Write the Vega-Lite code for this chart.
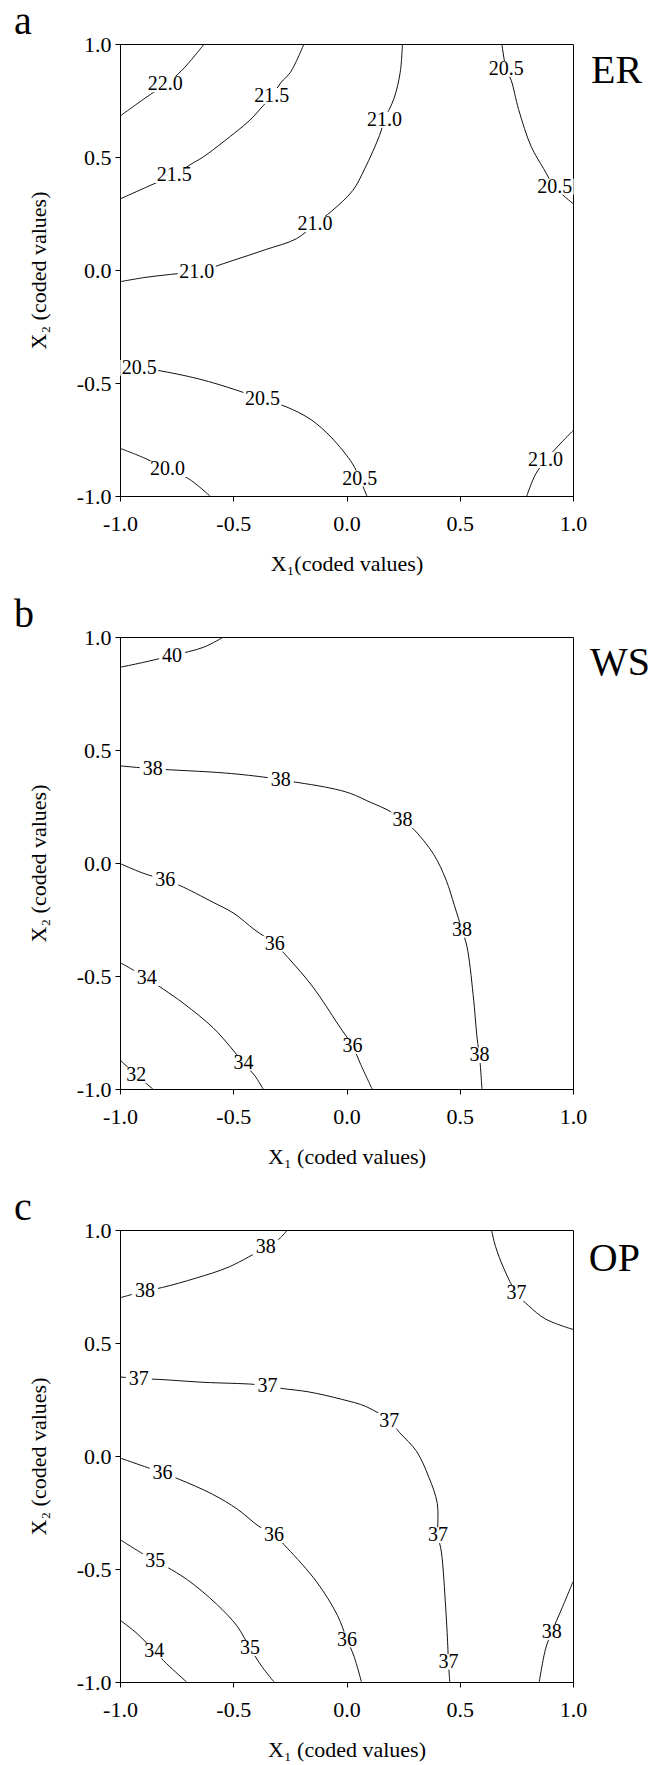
{
  "$schema": "https://vega.github.io/schema/vega-lite/v6.json",
  "background": "white",
  "padding": {"left": 13, "top": 1, "right": 2, "bottom": 2},
  "spacing": 19,
  "config": {
    "view": {"stroke": "#000", "strokeWidth": 1},
    "font": "Liberation Serif",
    "axis": {
      "labelFont": "Liberation Serif", "labelFontSize": 22, "labelColor": "#000",
      "titleFont": "Liberation Serif", "titleFontSize": 22, "titleFontWeight": "normal", "titleColor": "#000",
      "domainColor": "#000", "tickColor": "#000", "tickSize": 5, "grid": false,
      "labelFlush": false, "labelOverlap": false, "labelBound": false
    },
    "axisX": {"titlePadding": 19, "labelPadding": 12},
    "axisY": {"titlePadding": 26, "labelPadding": 4},
    "title": {"font": "Liberation Serif", "fontSize": 40, "fontWeight": "normal", "color": "#000", "anchor": "start", "frame": "group", "dx": -106, "offset": -9}
  },
  "datasets": {
    "a_lines": [
      {"c": "a1", "i": 0, "x": -1, "y": 0.681}, {"c": "a1", "i": 1, "x": -0.89, "y": 0.76}, {"c": "a1", "i": 2, "x": -0.8, "y": 0.822}, {"c": "a1", "i": 3, "x": -0.73, "y": 0.88}, {"c": "a1", "i": 4, "x": -0.628, "y": 1.0},
      {"c": "a2", "i": 0, "x": -0.188, "y": 1.0}, {"c": "a2", "i": 1, "x": -0.248, "y": 0.874}, {"c": "a2", "i": 2, "x": -0.289, "y": 0.83}, {"c": "a2", "i": 3, "x": -0.33, "y": 0.77}, {"c": "a2", "i": 4, "x": -0.368, "y": 0.727}, {"c": "a2", "i": 5, "x": -0.43, "y": 0.66}, {"c": "a2", "i": 6, "x": -0.54, "y": 0.57}, {"c": "a2", "i": 7, "x": -0.633, "y": 0.5}, {"c": "a2", "i": 8, "x": -0.69, "y": 0.466}, {"c": "a2", "i": 9, "x": -0.76, "y": 0.42}, {"c": "a2", "i": 10, "x": -0.844, "y": 0.384}, {"c": "a2", "i": 11, "x": -1, "y": 0.314},
      {"c": "a3", "i": 0, "x": 0.247, "y": 1.0}, {"c": "a3", "i": 1, "x": 0.237, "y": 0.874}, {"c": "a3", "i": 2, "x": 0.21, "y": 0.76}, {"c": "a3", "i": 3, "x": 0.168, "y": 0.665}, {"c": "a3", "i": 4, "x": 0.146, "y": 0.596}, {"c": "a3", "i": 5, "x": 0.081, "y": 0.449}, {"c": "a3", "i": 6, "x": 0.027, "y": 0.351}, {"c": "a3", "i": 7, "x": -0.065, "y": 0.261}, {"c": "a3", "i": 8, "x": -0.139, "y": 0.204}, {"c": "a3", "i": 9, "x": -0.22, "y": 0.139}, {"c": "a3", "i": 10, "x": -0.358, "y": 0.09}, {"c": "a3", "i": 11, "x": -0.505, "y": 0.041}, {"c": "a3", "i": 12, "x": -0.661, "y": -0.008}, {"c": "a3", "i": 13, "x": -0.743, "y": -0.016}, {"c": "a3", "i": 14, "x": -0.89, "y": -0.033}, {"c": "a3", "i": 15, "x": -1, "y": -0.052},
      {"c": "a4", "i": 0, "x": 0.686, "y": 1.0}, {"c": "a4", "i": 1, "x": 0.705, "y": 0.89}, {"c": "a4", "i": 2, "x": 0.727, "y": 0.84}, {"c": "a4", "i": 3, "x": 0.76, "y": 0.71}, {"c": "a4", "i": 4, "x": 0.815, "y": 0.547}, {"c": "a4", "i": 5, "x": 0.87, "y": 0.449}, {"c": "a4", "i": 6, "x": 0.919, "y": 0.368}, {"c": "a4", "i": 7, "x": 1.0, "y": 0.294},
      {"c": "a5", "i": 0, "x": -1, "y": -0.425}, {"c": "a5", "i": 1, "x": -0.918, "y": -0.433}, {"c": "a5", "i": 2, "x": -0.835, "y": -0.444}, {"c": "a5", "i": 3, "x": -0.652, "y": -0.482}, {"c": "a5", "i": 4, "x": -0.487, "y": -0.531}, {"c": "a5", "i": 5, "x": -0.371, "y": -0.572}, {"c": "a5", "i": 6, "x": -0.267, "y": -0.605}, {"c": "a5", "i": 7, "x": -0.157, "y": -0.662}, {"c": "a5", "i": 8, "x": -0.065, "y": -0.743}, {"c": "a5", "i": 9, "x": 0.027, "y": -0.858}, {"c": "a5", "i": 10, "x": 0.058, "y": -0.923}, {"c": "a5", "i": 11, "x": 0.09, "y": -1.0},
      {"c": "a6", "i": 0, "x": -1, "y": -0.789}, {"c": "a6", "i": 1, "x": -0.89, "y": -0.833}, {"c": "a6", "i": 2, "x": -0.79, "y": -0.882}, {"c": "a6", "i": 3, "x": -0.698, "y": -0.923}, {"c": "a6", "i": 4, "x": -0.603, "y": -1.0},
      {"c": "a7", "i": 0, "x": 1.0, "y": -0.711}, {"c": "a7", "i": 1, "x": 0.952, "y": -0.76}, {"c": "a7", "i": 2, "x": 0.879, "y": -0.841}, {"c": "a7", "i": 3, "x": 0.833, "y": -0.907}, {"c": "a7", "i": 4, "x": 0.796, "y": -1.0}
    ],
    "a_labels": [
      {"x": -0.8, "y": 0.822, "t": "22.0"},
      {"x": -0.33, "y": 0.77, "t": "21.5"},
      {"x": -0.76, "y": 0.42, "t": "21.5"},
      {"x": 0.168, "y": 0.665, "t": "21.0"},
      {"x": -0.139, "y": 0.204, "t": "21.0"},
      {"x": -0.661, "y": -0.008, "t": "21.0"},
      {"x": 0.705, "y": 0.89, "t": "20.5"},
      {"x": 0.919, "y": 0.368, "t": "20.5"},
      {"x": -0.915, "y": -0.433, "t": "20.5"},
      {"x": -0.371, "y": -0.572, "t": "20.5"},
      {"x": 0.058, "y": -0.923, "t": "20.5"},
      {"x": -0.79, "y": -0.882, "t": "20.0"},
      {"x": 0.879, "y": -0.841, "t": "21.0"}
    ],
    "a_name": [{"x": 1.08, "y": 0.88, "t": "ER"}],
    "b_lines": [
      {"c": "b1", "i": 0, "x": -1, "y": 0.866}, {"c": "b1", "i": 1, "x": -0.9, "y": 0.887}, {"c": "b1", "i": 2, "x": -0.77, "y": 0.918}, {"c": "b1", "i": 3, "x": -0.63, "y": 0.955}, {"c": "b1", "i": 4, "x": -0.543, "y": 1.0},
      {"c": "b2", "i": 0, "x": -1, "y": 0.43}, {"c": "b2", "i": 1, "x": -0.855, "y": 0.417}, {"c": "b2", "i": 2, "x": -0.534, "y": 0.398}, {"c": "b2", "i": 3, "x": -0.35, "y": 0.378}, {"c": "b2", "i": 4, "x": -0.29, "y": 0.368}, {"c": "b2", "i": 5, "x": -0.074, "y": 0.332}, {"c": "b2", "i": 6, "x": 0.017, "y": 0.308}, {"c": "b2", "i": 7, "x": 0.109, "y": 0.267}, {"c": "b2", "i": 8, "x": 0.183, "y": 0.234}, {"c": "b2", "i": 9, "x": 0.247, "y": 0.19}, {"c": "b2", "i": 10, "x": 0.293, "y": 0.153}, {"c": "b2", "i": 11, "x": 0.385, "y": 0.038}, {"c": "b2", "i": 12, "x": 0.44, "y": -0.076}, {"c": "b2", "i": 13, "x": 0.477, "y": -0.19}, {"c": "b2", "i": 14, "x": 0.51, "y": -0.296}, {"c": "b2", "i": 15, "x": 0.532, "y": -0.37}, {"c": "b2", "i": 16, "x": 0.559, "y": -0.582}, {"c": "b2", "i": 17, "x": 0.577, "y": -0.778}, {"c": "b2", "i": 18, "x": 0.587, "y": -0.851}, {"c": "b2", "i": 19, "x": 0.598, "y": -1.0},
      {"c": "b3", "i": 0, "x": -1, "y": -0.002}, {"c": "b3", "i": 1, "x": -0.901, "y": -0.044}, {"c": "b3", "i": 2, "x": -0.8, "y": -0.076}, {"c": "b3", "i": 3, "x": -0.735, "y": -0.1}, {"c": "b3", "i": 4, "x": -0.589, "y": -0.174}, {"c": "b3", "i": 5, "x": -0.497, "y": -0.223}, {"c": "b3", "i": 6, "x": -0.405, "y": -0.296}, {"c": "b3", "i": 7, "x": -0.317, "y": -0.358}, {"c": "b3", "i": 8, "x": -0.258, "y": -0.419}, {"c": "b3", "i": 9, "x": -0.148, "y": -0.549}, {"c": "b3", "i": 10, "x": -0.038, "y": -0.713}, {"c": "b3", "i": 11, "x": 0.027, "y": -0.811}, {"c": "b3", "i": 12, "x": 0.063, "y": -0.892}, {"c": "b3", "i": 13, "x": 0.113, "y": -1.0},
      {"c": "b4", "i": 0, "x": -1, "y": -0.44}, {"c": "b4", "i": 1, "x": -0.882, "y": -0.509}, {"c": "b4", "i": 2, "x": -0.809, "y": -0.558}, {"c": "b4", "i": 3, "x": -0.717, "y": -0.623}, {"c": "b4", "i": 4, "x": -0.589, "y": -0.729}, {"c": "b4", "i": 5, "x": -0.515, "y": -0.811}, {"c": "b4", "i": 6, "x": -0.455, "y": -0.884}, {"c": "b4", "i": 7, "x": -0.405, "y": -0.941}, {"c": "b4", "i": 8, "x": -0.368, "y": -1.0},
      {"c": "b5", "i": 0, "x": -1, "y": -0.871}, {"c": "b5", "i": 1, "x": -0.928, "y": -0.938}, {"c": "b5", "i": 2, "x": -0.855, "y": -1.0}
    ],
    "b_labels": [
      {"x": -0.77, "y": 0.918, "t": "40"},
      {"x": -0.855, "y": 0.417, "t": "38"},
      {"x": -0.29, "y": 0.368, "t": "38"},
      {"x": 0.247, "y": 0.19, "t": "38"},
      {"x": 0.51, "y": -0.296, "t": "38"},
      {"x": 0.587, "y": -0.851, "t": "38"},
      {"x": -0.8, "y": -0.076, "t": "36"},
      {"x": -0.317, "y": -0.358, "t": "36"},
      {"x": 0.027, "y": -0.811, "t": "36"},
      {"x": -0.882, "y": -0.509, "t": "34"},
      {"x": -0.455, "y": -0.884, "t": "34"},
      {"x": -0.928, "y": -0.938, "t": "32"}
    ],
    "b_name": [{"x": 1.075, "y": 0.885, "t": "WS"}],
    "c_lines": [
      {"c": "c1", "i": 0, "x": -1, "y": 0.7}, {"c": "c1", "i": 1, "x": -0.89, "y": 0.73}, {"c": "c1", "i": 2, "x": -0.812, "y": 0.746}, {"c": "c1", "i": 3, "x": -0.665, "y": 0.787}, {"c": "c1", "i": 4, "x": -0.518, "y": 0.837}, {"c": "c1", "i": 5, "x": -0.357, "y": 0.924}, {"c": "c1", "i": 6, "x": -0.298, "y": 0.96}, {"c": "c1", "i": 7, "x": -0.261, "y": 1.0},
      {"c": "c2", "i": 0, "x": 0.64, "y": 1.0}, {"c": "c2", "i": 1, "x": 0.658, "y": 0.927}, {"c": "c2", "i": 2, "x": 0.695, "y": 0.829}, {"c": "c2", "i": 3, "x": 0.75, "y": 0.721}, {"c": "c2", "i": 4, "x": 0.805, "y": 0.664}, {"c": "c2", "i": 5, "x": 0.879, "y": 0.606}, {"c": "c2", "i": 6, "x": 1.0, "y": 0.56},
      {"c": "c3", "i": 0, "x": -1, "y": 0.35}, {"c": "c3", "i": 1, "x": -0.917, "y": 0.342}, {"c": "c3", "i": 2, "x": -0.831, "y": 0.339}, {"c": "c3", "i": 3, "x": -0.629, "y": 0.326}, {"c": "c3", "i": 4, "x": -0.408, "y": 0.317}, {"c": "c3", "i": 5, "x": -0.349, "y": 0.309}, {"c": "c3", "i": 6, "x": -0.279, "y": 0.298}, {"c": "c3", "i": 7, "x": -0.169, "y": 0.284}, {"c": "c3", "i": 8, "x": -0.022, "y": 0.251}, {"c": "c3", "i": 9, "x": 0.088, "y": 0.218}, {"c": "c3", "i": 10, "x": 0.189, "y": 0.156}, {"c": "c3", "i": 11, "x": 0.235, "y": 0.103}, {"c": "c3", "i": 12, "x": 0.309, "y": 0.021}, {"c": "c3", "i": 13, "x": 0.364, "y": -0.095}, {"c": "c3", "i": 14, "x": 0.401, "y": -0.21}, {"c": "c3", "i": 15, "x": 0.404, "y": -0.35}, {"c": "c3", "i": 16, "x": 0.419, "y": -0.425}, {"c": "c3", "i": 17, "x": 0.438, "y": -0.672}, {"c": "c3", "i": 18, "x": 0.447, "y": -0.837}, {"c": "c3", "i": 19, "x": 0.45, "y": -0.911}, {"c": "c3", "i": 20, "x": 0.456, "y": -1.0},
      {"c": "c4", "i": 0, "x": -1, "y": -0.009}, {"c": "c4", "i": 1, "x": -0.812, "y": -0.075}, {"c": "c4", "i": 2, "x": -0.739, "y": -0.103}, {"c": "c4", "i": 3, "x": -0.592, "y": -0.169}, {"c": "c4", "i": 4, "x": -0.482, "y": -0.235}, {"c": "c4", "i": 5, "x": -0.39, "y": -0.309}, {"c": "c4", "i": 6, "x": -0.32, "y": -0.35}, {"c": "c4", "i": 7, "x": -0.261, "y": -0.408}, {"c": "c4", "i": 8, "x": -0.132, "y": -0.557}, {"c": "c4", "i": 9, "x": -0.04, "y": -0.705}, {"c": "c4", "i": 10, "x": 0.002, "y": -0.812}, {"c": "c4", "i": 11, "x": 0.033, "y": -0.886}, {"c": "c4", "i": 12, "x": 0.066, "y": -1.0},
      {"c": "c5", "i": 0, "x": -1, "y": -0.37}, {"c": "c5", "i": 1, "x": -0.844, "y": -0.466}, {"c": "c5", "i": 2, "x": -0.794, "y": -0.491}, {"c": "c5", "i": 3, "x": -0.702, "y": -0.548}, {"c": "c5", "i": 4, "x": -0.574, "y": -0.655}, {"c": "c5", "i": 5, "x": -0.482, "y": -0.754}, {"c": "c5", "i": 6, "x": -0.426, "y": -0.85}, {"c": "c5", "i": 7, "x": -0.371, "y": -0.935}, {"c": "c5", "i": 8, "x": -0.32, "y": -1.0},
      {"c": "c6", "i": 0, "x": -1, "y": -0.726}, {"c": "c6", "i": 1, "x": -0.923, "y": -0.787}, {"c": "c6", "i": 2, "x": -0.849, "y": -0.862}, {"c": "c6", "i": 3, "x": -0.794, "y": -0.919}, {"c": "c6", "i": 4, "x": -0.706, "y": -1.0},
      {"c": "c7", "i": 0, "x": 1.0, "y": -0.556}, {"c": "c7", "i": 1, "x": 0.952, "y": -0.672}, {"c": "c7", "i": 2, "x": 0.906, "y": -0.779}, {"c": "c7", "i": 3, "x": 0.879, "y": -0.853}, {"c": "c7", "i": 4, "x": 0.851, "y": -1.0}
    ],
    "c_labels": [
      {"x": -0.89, "y": 0.73, "t": "38"},
      {"x": -0.357, "y": 0.924, "t": "38"},
      {"x": 0.75, "y": 0.721, "t": "37"},
      {"x": -0.917, "y": 0.342, "t": "37"},
      {"x": -0.349, "y": 0.309, "t": "37"},
      {"x": 0.189, "y": 0.156, "t": "37"},
      {"x": 0.404, "y": -0.35, "t": "37"},
      {"x": 0.45, "y": -0.911, "t": "37"},
      {"x": -0.812, "y": -0.075, "t": "36"},
      {"x": -0.32, "y": -0.35, "t": "36"},
      {"x": 0.002, "y": -0.812, "t": "36"},
      {"x": -0.844, "y": -0.466, "t": "35"},
      {"x": -0.426, "y": -0.85, "t": "35"},
      {"x": -0.849, "y": -0.862, "t": "34"},
      {"x": 0.906, "y": -0.779, "t": "38"}
    ],
    "c_name": [{"x": 1.07, "y": 0.87, "t": "OP"}]
  },
  "vconcat": [
    {
      "width": 453, "height": 452,
      "title": {"text": "a"},
      "layer": [
        {
          "data": {"name": "a_lines"},
          "mark": {"type": "line", "interpolate": "catmull-rom", "clip": true, "color": "#111", "strokeWidth": 1},
          "encoding": {
            "x": {"field": "x", "type": "quantitative", "scale": {"domain": [-1, 1], "nice": false, "zero": false}, "axis": {"title": "X₁(coded values)", "values": [-1, -0.5, 0, 0.5, 1], "labelExpr": "(datum.value < 0 ? '-' : '') + format(abs(datum.value), '.1f')"}},
            "y": {"field": "y", "type": "quantitative", "scale": {"domain": [-1, 1], "nice": false, "zero": false}, "axis": {"title": "X₂ (coded values)", "values": [-1, -0.5, 0, 0.5, 1], "labelExpr": "(datum.value < 0 ? '-' : '') + format(abs(datum.value), '.1f')"}},
            "detail": {"field": "c"},
            "order": {"field": "i", "type": "quantitative"}
          }
        },
        {
          "data": {"name": "a_labels"},
          "mark": {"type": "point", "shape": "M-1,-0.42H1V0.42H-1Z", "filled": true, "color": "white", "opacity": 1, "size": 1444, "strokeWidth": 0},
          "encoding": {"x": {"field": "x", "type": "quantitative"}, "y": {"field": "y", "type": "quantitative"}}
        },
        {
          "data": {"name": "a_labels"},
          "mark": {"type": "text", "font": "Liberation Serif", "fontSize": 20, "color": "#000", "align": "center", "baseline": "middle"},
          "encoding": {"x": {"field": "x", "type": "quantitative"}, "y": {"field": "y", "type": "quantitative"}, "text": {"field": "t"}}
        },
        {
          "data": {"name": "a_name"},
          "mark": {"type": "text", "clip": false, "font": "Liberation Serif", "fontSize": 40, "color": "#000", "align": "left", "baseline": "middle"},
          "encoding": {"x": {"field": "x", "type": "quantitative"}, "y": {"field": "y", "type": "quantitative"}, "text": {"field": "t"}}
        }
      ]
    },
    {
      "width": 453, "height": 452,
      "title": {"text": "b"},
      "layer": [
        {
          "data": {"name": "b_lines"},
          "mark": {"type": "line", "interpolate": "catmull-rom", "clip": true, "color": "#111", "strokeWidth": 1},
          "encoding": {
            "x": {"field": "x", "type": "quantitative", "scale": {"domain": [-1, 1], "nice": false, "zero": false}, "axis": {"title": "X₁ (coded values)", "values": [-1, -0.5, 0, 0.5, 1], "labelExpr": "(datum.value < 0 ? '-' : '') + format(abs(datum.value), '.1f')"}},
            "y": {"field": "y", "type": "quantitative", "scale": {"domain": [-1, 1], "nice": false, "zero": false}, "axis": {"title": "X₂ (coded values)", "values": [-1, -0.5, 0, 0.5, 1], "labelExpr": "(datum.value < 0 ? '-' : '') + format(abs(datum.value), '.1f')"}},
            "detail": {"field": "c"},
            "order": {"field": "i", "type": "quantitative"}
          }
        },
        {
          "data": {"name": "b_labels"},
          "mark": {"type": "point", "shape": "M-1,-0.6H1V0.6H-1Z", "filled": true, "color": "white", "opacity": 1, "size": 676, "strokeWidth": 0},
          "encoding": {"x": {"field": "x", "type": "quantitative"}, "y": {"field": "y", "type": "quantitative"}}
        },
        {
          "data": {"name": "b_labels"},
          "mark": {"type": "text", "font": "Liberation Serif", "fontSize": 20, "color": "#000", "align": "center", "baseline": "middle"},
          "encoding": {"x": {"field": "x", "type": "quantitative"}, "y": {"field": "y", "type": "quantitative"}, "text": {"field": "t"}}
        },
        {
          "data": {"name": "b_name"},
          "mark": {"type": "text", "clip": false, "font": "Liberation Serif", "fontSize": 40, "color": "#000", "align": "left", "baseline": "middle"},
          "encoding": {"x": {"field": "x", "type": "quantitative"}, "y": {"field": "y", "type": "quantitative"}, "text": {"field": "t"}}
        }
      ]
    },
    {
      "width": 453, "height": 452,
      "title": {"text": "c"},
      "layer": [
        {
          "data": {"name": "c_lines"},
          "mark": {"type": "line", "interpolate": "catmull-rom", "clip": true, "color": "#111", "strokeWidth": 1},
          "encoding": {
            "x": {"field": "x", "type": "quantitative", "scale": {"domain": [-1, 1], "nice": false, "zero": false}, "axis": {"title": "X₁ (coded values)", "values": [-1, -0.5, 0, 0.5, 1], "labelExpr": "(datum.value < 0 ? '-' : '') + format(abs(datum.value), '.1f')"}},
            "y": {"field": "y", "type": "quantitative", "scale": {"domain": [-1, 1], "nice": false, "zero": false}, "axis": {"title": "X₂ (coded values)", "values": [-1, -0.5, 0, 0.5, 1], "labelExpr": "(datum.value < 0 ? '-' : '') + format(abs(datum.value), '.1f')"}},
            "detail": {"field": "c"},
            "order": {"field": "i", "type": "quantitative"}
          }
        },
        {
          "data": {"name": "c_labels"},
          "mark": {"type": "point", "shape": "M-1,-0.6H1V0.6H-1Z", "filled": true, "color": "white", "opacity": 1, "size": 676, "strokeWidth": 0},
          "encoding": {"x": {"field": "x", "type": "quantitative"}, "y": {"field": "y", "type": "quantitative"}}
        },
        {
          "data": {"name": "c_labels"},
          "mark": {"type": "text", "font": "Liberation Serif", "fontSize": 20, "color": "#000", "align": "center", "baseline": "middle"},
          "encoding": {"x": {"field": "x", "type": "quantitative"}, "y": {"field": "y", "type": "quantitative"}, "text": {"field": "t"}}
        },
        {
          "data": {"name": "c_name"},
          "mark": {"type": "text", "clip": false, "font": "Liberation Serif", "fontSize": 40, "color": "#000", "align": "left", "baseline": "middle"},
          "encoding": {"x": {"field": "x", "type": "quantitative"}, "y": {"field": "y", "type": "quantitative"}, "text": {"field": "t"}}
        }
      ]
    }
  ]
}
